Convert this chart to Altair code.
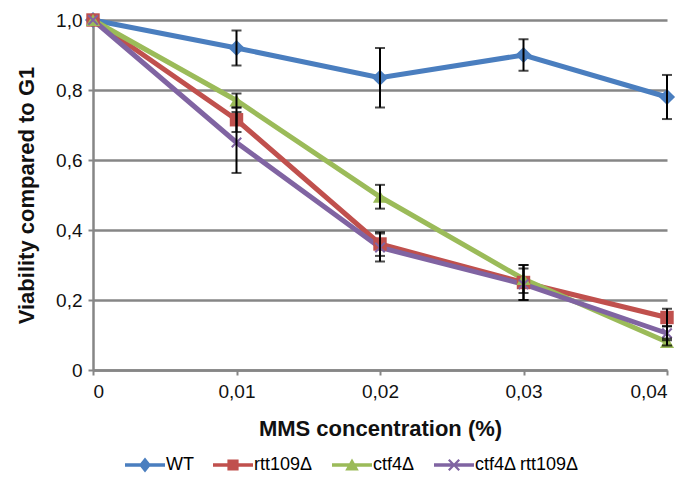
import altair as alt
import pandas as pd

conc = [0.0, 0.01, 0.02, 0.03, 0.04]
series_names = ["WT", "rtt109Δ", "ctf4Δ", "ctf4Δ rtt109Δ"]
wt = [1.0, 0.92, 0.835, 0.90, 0.78]
wt_err = [0.0, 0.05, 0.085, 0.045, 0.063]
rtt = [1.0, 0.715, 0.36, 0.25, 0.15]
rtt_err = [0.0, 0.035, 0.034, 0.05, 0.025]
ctf = [1.0, 0.77, 0.495, 0.26, 0.08]
ctf_err = [0.0, 0.02, 0.034, 0.04, 0.01]
dbl = [1.0, 0.65, 0.35, 0.245, 0.105]
dbl_err = [0.0, 0.087, 0.04, 0.045, 0.02]

colors = ["#4A7EBF", "#C0504D", "#9BBB59", "#8064A2"]

rows = []
for name, vals, errs in zip(series_names, [wt, rtt, ctf, dbl], [wt_err, rtt_err, ctf_err, dbl_err]):
    for i, (c, v, e) in enumerate(zip(conc, vals, errs)):
        rows.append({"conc": c, "val": v, "err": e, "lo": v - e, "hi": v + e,
                     "series": name, "order": i})
df = pd.DataFrame(rows)

FONT = "Liberation Sans"

x_enc = alt.X("conc:Q", scale=alt.Scale(domain=[0, 0.04], nice=False),
              axis=alt.Axis(values=conc, title="MMS concentration (%)",
                            labelExpr="datum.value == 0 ? '0' : replace(format(datum.value, '.2f'), '.', ',')",
                            grid=False, domainColor="#868686", domainWidth=2.5,
                            tickColor="#868686", tickWidth=2, tickSize=5,
                            labelPadding=7, titlePadding=17))
y_enc = alt.Y("val:Q", scale=alt.Scale(domain=[0, 1], nice=False),
              axis=alt.Axis(values=[0, 0.2, 0.4, 0.6, 0.8, 1.0], title="Viability compared to G1",
                            labelExpr="datum.value == 0 ? '0' : replace(format(datum.value, '.1f'), '.', ',')",
                            grid=True, gridColor="#868686", gridWidth=2.5,
                            domainColor="#868686", domainWidth=2.5,
                            tickColor="#868686", tickWidth=2, tickSize=5,
                            labelPadding=6, titlePadding=17))

color_scale = alt.Scale(domain=series_names, range=colors)
base = alt.Chart(df)

line_rect = "M-1,-0.09L1,-0.09L1,0.09L-1,0.09Z"
leg_shapes = [
    line_rect + "M0,-0.38L0.3,0L0,0.38L-0.3,0Z",
    line_rect + "M-0.28,-0.28L0.28,-0.28L0.28,0.28L-0.28,0.28Z",
    line_rect + "M0,-0.32L0.34,0.28L-0.34,0.28Z",
    line_rect + "M-0.3,-0.22L-0.22,-0.3L0,-0.08L0.22,-0.3L0.3,-0.22L0.08,0L0.3,0.22L0.22,0.3L0,0.08L-0.22,0.3L-0.3,0.22L-0.08,0Z",
]
leg = alt.Legend(title=None, orient="none", legendX=32, legendY=425, direction="horizontal",
                 symbolSize=1600, symbolStrokeWidth=0, labelFont=FONT, labelFontSize=18,
                 labelColor="black", labelOffset=1, columnPadding=19, padding=0,
                 symbolOpacity=1)
# legend-only layer (first, so its legend definition wins), marks invisible
legend_layer = base.mark_point(filled=True, opacity=0).encode(
    x=x_enc, y=y_enc,
    color=alt.Color("series:N", scale=color_scale, legend=leg),
    shape=alt.Shape("series:N", scale=alt.Scale(domain=series_names, range=leg_shapes), legend=leg),
)

lines = base.mark_line(strokeWidth=5).encode(
    x="conc:Q", y="val:Q",
    color=alt.Color("series:N", scale=color_scale, legend=None),
    order="order:Q",
)

x_path = "M-1,-1L1,1M-1,1L1,-1"
shapes = ["diamond", "square", "triangle-up", x_path]
sizes = [260, 180, 200, 90]
point_layers = []
for name, shp, sz in zip(series_names, shapes, sizes):
    filled = shp != x_path
    pl = base.transform_filter(alt.datum.series == name).mark_point(
        filled=filled, shape=shp, size=sz, opacity=1,
        strokeWidth=2 if not filled else 0,
    ).encode(
        x="conc:Q", y="val:Q",
        color=alt.Color("series:N", scale=color_scale, legend=None),
    )
    point_layers.append(pl)

err = base.transform_filter(alt.datum.err > 0)
err_rule = err.mark_rule(color="black", strokeWidth=2).encode(
    x="conc:Q", y="lo:Q", y2="hi:Q")
cap_lo = err.mark_tick(color="black", orient="horizontal", size=10, thickness=2).encode(
    x="conc:Q", y="lo:Q")
cap_hi = err.mark_tick(color="black", orient="horizontal", size=10, thickness=2).encode(
    x="conc:Q", y="hi:Q")

chart = alt.layer(legend_layer, lines, *point_layers, err_rule, cap_lo, cap_hi).properties(
    width=574, height=350,
    autosize=alt.AutoSizeParams(type="none"),
    padding={"left": 93, "top": 20, "right": 16, "bottom": 115},
).configure_view(stroke=None).configure_axis(
    labelFont=FONT, labelFontSize=19, labelColor="#111111",
    titleFont=FONT, titleFontSize=22, titleFontWeight="bold", titleColor="#111111",
)

chart.save("out.html", embed_options={"renderer": "svg", "actions": False})
